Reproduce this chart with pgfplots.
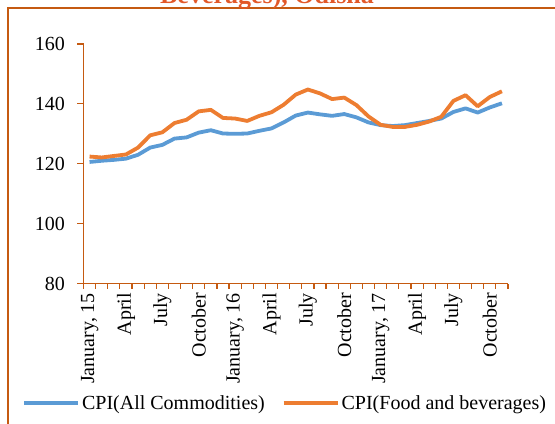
\documentclass[border=0pt]{standalone}
\usepackage{pgfplots}
\pgfplotsset{compat=1.18}
\usepackage{fontspec}
\setmainfont{Liberation Serif}
\definecolor{axiscol}{RGB}{197,90,17}
\definecolor{titlecol}{RGB}{226,88,40}
\definecolor{cpiblue}{RGB}{91,155,213}
\definecolor{cpiorange}{RGB}{237,125,49}
\begin{document}
\begin{tikzpicture}
\path[use as bounding box] (0,0) rectangle (555bp,424bp);
\clip (0,0) rectangle (555bp,424bp);
\draw[axiscol, line width=1.6bp] (8bp,-10bp) -- (8bp,416bp) -- (600bp,416bp);
\node[anchor=base, text=titlecol, font=\fontsize{26bp}{30bp}\selectfont\bfseries, inner sep=0pt] at (267bp,420bp) {Beverages), Odisha};
\begin{axis}[
  at={(83.5bp,140.5bp)}, anchor=south west,
  scale only axis, width=424.5bp, height=239.5bp,
  xmin=-0.5, xmax=34.5, ymin=80, ymax=160,
  axis x line*=bottom, axis y line*=left,
  axis line style={draw=axiscol, line width=1.2bp, -},
  ytick={80,100,...,160},
  xtick={0,3,...,33},
  xticklabels={{January, 15},April,July,October,{January, 16},April,July,October,{January, 17},April,July,October},
  minor xtick={-0.5,0.5,...,34.5},
  tick align=outside,
  major tick length=6bp, minor tick length=5bp,
  major x tick style={draw=none},
  minor x tick style={draw=axiscol, line width=1.2bp},
  major y tick style={draw=axiscol, line width=1.2bp},
  tick label style={font=\fontsize{20bp}{24bp}\selectfont, text=black},
  xticklabel style={rotate=90, anchor=east},
  yticklabel style={xshift=-9bp},
  /pgf/number format/assume math mode=true,
  legend columns=2,
  legend style={at={(0.475,-0.499)}, anchor=center, draw=none, fill=none,
    font=\fontsize{20bp}{24bp}\selectfont,
    /tikz/every even column/.append style={column sep=15bp}},
  legend image code/.code={\draw[#1] (0bp,0bp) -- (54bp,0bp);},
]
\addplot[cpiblue, line width=3.8bp, line join=round] coordinates {
(0,120.6) (1,121.0) (2,121.3) (3,121.7) (4,123.0) (5,125.4) (6,126.3) (7,128.4) (8,128.8) (9,130.4)
(10,131.2) (11,130.1) (12,130.0) (13,130.1) (14,131.0) (15,131.8) (16,133.8) (17,136.1) (18,137.1) (19,136.5)
(20,136.0) (21,136.6) (22,135.5) (23,133.8) (24,132.9) (25,132.6) (26,132.9) (27,133.6) (28,134.3) (29,135.1)
(30,137.3) (31,138.5) (32,137.1) (33,138.8) (34,140.2)
};
\addlegendentry{CPI(All Commodities)}
\addplot[cpiorange, line width=3.8bp, line join=round] coordinates {
(0,122.4) (1,122.1) (2,122.6) (3,123.1) (4,125.4) (5,129.5) (6,130.5) (7,133.6) (8,134.7) (9,137.5)
(10,138.0) (11,135.3) (12,135.1) (13,134.3) (14,136.0) (15,137.2) (16,139.7) (17,143.1) (18,144.8) (19,143.5)
(20,141.6) (21,142.1) (22,139.6) (23,135.8) (24,133.0) (25,132.3) (26,132.3) (27,133.0) (28,134.1) (29,135.7)
(30,141.0) (31,142.9) (32,139.2) (33,142.3) (34,144.2)
};
\addlegendentry{CPI(Food and beverages)}
\end{axis}
\end{tikzpicture}
\end{document}
